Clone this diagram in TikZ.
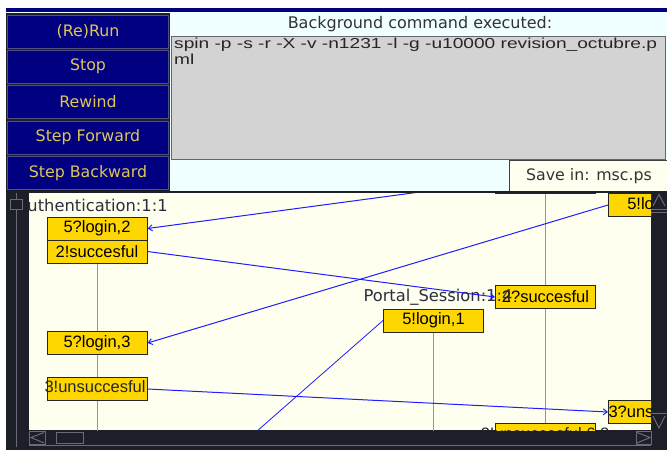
\documentclass[tikz,border=0pt]{standalone}
\usepackage{fontspec}
\setmainfont{DejaVu Sans}
\newfontfamily\arialf{Liberation Sans}
\newfontfamily\cmdf[FakeStretch=1.32]{Liberation Sans}
\usetikzlibrary{arrows.meta}
\definecolor{navybtn}{RGB}{0,0,128}
\definecolor{btnborder}{RGB}{80,80,130}
\definecolor{btntext}{RGB}{222,198,88}
\definecolor{azurebg}{RGB}{240,255,255}
\definecolor{greybox}{RGB}{211,211,211}
\definecolor{ivorybg}{RGB}{255,255,240}
\definecolor{darkframe}{RGB}{28,30,40}
\definecolor{msggold}{RGB}{255,215,0}
\definecolor{lifegrey}{RGB}{150,150,150}
\definecolor{msgblue}{RGB}{30,30,255}
\definecolor{scrollline}{RGB}{105,108,120}
\definecolor{labeltext}{RGB}{45,45,60}
\tikzset{
  btn/.style={fill=navybtn, draw=btnborder, line width=1pt, text=btntext,
    font=\fontsize{15.8}{18}\selectfont, minimum width=161pt, minimum height=33pt, inner sep=0pt},
  msg/.style={fill=msggold, draw=black!85, line width=1pt, inner sep=0pt,
    font=\arialf\fontsize{16.5}{18}\selectfont, minimum width=100pt, minimum height=23pt},
  msgtxt/.style={inner sep=0pt, font=\arialf\fontsize{16.5}{18}\selectfont, text=black!85},
  lifelbl/.style={inner sep=0pt, text=labeltext, font=\fontsize{16.3}{18}\selectfont},
  life/.style={draw=lifegrey, line width=1pt},
  msgline/.style={draw=msgblue, line width=1pt},
  msgarrow/.style={msgline, -{Straight Barb[length=4pt,width=6pt]}},
  scrl/.style={draw=scrollline, line width=1pt},
}
\begin{document}
\begin{tikzpicture}[x=1pt,y=-1pt]
\useasboundingbox (0,0) rectangle (667,450);
\fill[white] (0,0) rectangle (667,450);
% top area
\fill[navybtn] (6,8) rectangle (667,12);
\fill[azurebg] (6,12) rectangle (667,191);
\fill[darkframe] (6,13) rectangle (170,191);
% buttons
\node[btn] (run)  at (88,32)    {(Re)Run};
\node[btn] (stop) at (88,66.5)  {Stop};
\node[btn] (rew)  at (88,102)   {Rewind};
\node[btn] (fwd)  at (88,137.5) {Step Forward};
\node[btn] (bwd)  at (88,173)   {Step Backward};
% command area
\node[inner sep=0pt, text=black!80, font=\fontsize{16}{18}\selectfont] (bgtitle) at (420,24) {Background command executed:};
\draw[fill=greybox, draw=black!60, line width=1pt] (171,36) rectangle (665,159);
\node[anchor=north west, inner sep=0pt, align=left, text=black!85,
  font=\cmdf\fontsize{14.5}{16}\selectfont] (cmd) at (174,38)
  {spin -p -s -r -X -v -n1231 -l -g -u10000 revision\_octubre.p\\ml};
\draw[fill=ivorybg, draw=black!75, line width=1pt] (509,160) rectangle (668,192);
\node[inner sep=0pt, text=black!80, font=\fontsize{15.8}{18}\selectfont] (save) at (589,176) {Save in: msc.ps};
% lower frame
\fill[darkframe] (6,191) rectangle (667,450);
\fill[ivorybg] (29,193) rectangle (651,430);
% canvas content
\begin{scope}
\clip (29,193) rectangle (651,430);
\coordinate (l1top) at (97,250);
\coordinate (l1bot) at (97,432);
\coordinate (l2top) at (433,320);
\coordinate (l2bot) at (433,432);
\coordinate (l3top) at (545,190);
\coordinate (l3bot) at (545,432);
\draw[life] (l1top) -- (l1bot);
\draw[life] (l2top) -- (l2bot);
\draw[life] (l3top) -- (l3bot);
\node[lifelbl] (auth) at (92,205) {Authentication:1:1};
\node[msg] (b0) at (545.5,181.5) {};
\node[msg] (b1) at (97,228.5) {5?login,2};
\node[msg] (b2) at (97,251.5) {2!succesful};
\node[msg] (b3) at (97,343) {5?login,3};
\node[msg] (b4) at (97,389) {};
\node[msgtxt] (b4t) at (95,387) {3!unsuccesful};
\node[msg] (b5) at (433.5,320.5) {5!login,1};
\node[msg] (b6) at (545.5,297) {2?succesful};
\node[msg, anchor=west] (b7) at (608,205) {5!login,3};
\node[msg, anchor=west] (b8) at (608,412) {3?unsuccesful};
\node[msg] (b9) at (545.5,435) {};
\node[msgtxt] (b9t) at (545,435) {3!unsuccesful,6:8};
\node[lifelbl] (portal) at (438,297) {Portal\_Session:1:4};
\coordinate (c1) at (420,192);
\coordinate (c5) at (240,446);
\draw[msgarrow] (c1) -- (b1.east);
\draw[msgarrow] (b2.east) -- (b6.west);
\draw[msgarrow] (b7.west) -- (b3.east);
\draw[msgarrow] (b4.east) -- (b8.west);
\draw[msgline, line width=0.8pt] (b5.west) -- (c5);
\end{scope}
% left scrollbar
\draw[scrl] (16,193) -- (16,447);
\draw[scrl, fill=darkframe] (10.5,199.5) rectangle (22.5,209.5);
% bottom scrollbar
\draw[scrl] (29,445) -- (651,445);
\draw[scrl] (29.5,431) rectangle (45,444);
\draw[scrl] (44,432.5) -- (31,437.5) -- (44,443);
\draw[scrl] (56.5,432.5) rectangle (83,443);
\draw[scrl] (636,431) rectangle (651,444);
\draw[scrl] (637,432.5) -- (650,437.5) -- (637,443);
% right scrollbar
\draw[scrl] (653,206) -- (659,194.5) -- (665,206);
\draw[scrl] (651,209) -- (667,209);
\draw[scrl] (651,212) -- (667,212);
\draw[scrl] (653,416) -- (659,428) -- (665,416);
\draw[scrl] (651,413) -- (667,413);
\end{tikzpicture}
\end{document}
